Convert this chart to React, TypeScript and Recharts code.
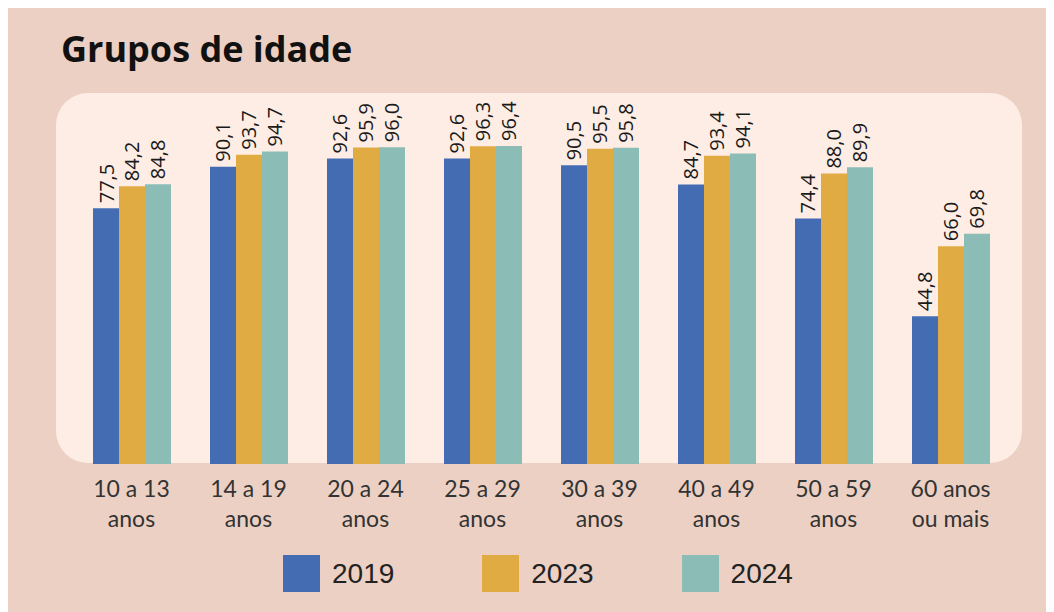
import { Bar, BarChart, LabelList, XAxis, YAxis } from "recharts";

const categories = [
  "10 a 13\nanos",
  "14 a 19\nanos",
  "20 a 24\nanos",
  "25 a 29\nanos",
  "30 a 39\nanos",
  "40 a 49\nanos",
  "50 a 59\nanos",
  "60 anos\nou mais",
];
const values2019 = [77.5, 90.1, 92.6, 92.6, 90.5, 84.7, 74.4, 44.8];
const values2023 = [84.2, 93.7, 95.9, 96.3, 95.5, 93.4, 88.0, 66.0];
const values2024 = [84.8, 94.7, 96.0, 96.4, 95.8, 94.1, 89.9, 69.8];

const series = [
  { key: "2019", values: values2019, color: "#436cb3" },
  { key: "2023", values: values2023, color: "#e0ab42" },
  { key: "2024", values: values2024, color: "#8bbdb6" },
];

const data = categories.map((name, i) => {
  const row: Record<string, string | number> = { name };
  series.forEach((s) => (row[s.key] = s.values[i]));
  return row;
});

const fmt = (v: number) => v.toFixed(1).replace(".", ",");

function BarLabel(props: any) {
  const { x, y, width, value } = props;
  const cx = x + width / 2;
  const ty = y - 5;
  return (
    <text
      x={cx}
      y={ty}
      transform={`rotate(-90, ${cx}, ${ty})`}
      textAnchor="start"
      dominantBaseline="central"
      fontFamily="Open Sans"
      fontSize={20}
      fill="#1a1a1a"
    >
      {fmt(value)}
    </text>
  );
}

function CategoryTick(props: any) {
  const { x, y, payload } = props;
  const lines = String(payload.value).split("\n");
  return (
    <text x={x} textAnchor="middle" fontFamily="Lato" fontSize={23} fill="#333">
      {lines.map((l, i) => (
        <tspan key={i} x={x} y={y + 33 + i * 30}>
          {l}
        </tspan>
      ))}
    </text>
  );
}

export default function App() {
  return (
    <div style={{ position: "relative", width: 1046, height: 604, background: "#ebd0c3" }}>
      <div
        style={{
          position: "absolute",
          left: 53,
          top: 23,
          fontFamily: "Open Sans",
          fontWeight: 700,
          fontSize: 36,
          lineHeight: "36px",
          color: "#111",
        }}
      >
        Grupos de idade
      </div>
      <div
        style={{
          position: "absolute",
          left: 48,
          top: 85,
          width: 966,
          height: 370,
          borderRadius: 32,
          background: "#fdede4",
        }}
      />
      <div style={{ position: "absolute", left: 0, top: 0 }}>
        <BarChart
          width={1046}
          height={604}
          data={data}
          margin={{ top: 126, right: 45, left: 65, bottom: 78 }}
          barGap={0}
          barSize={26}
        >
          <XAxis
            dataKey="name"
            height={70}
            axisLine={false}
            tickLine={false}
            tickSize={0}
            tickMargin={0}
            interval={0}
            tick={<CategoryTick />}
          />
          <YAxis hide domain={[0, 100]} />
          {series.map((s) => (
            <Bar key={s.key} dataKey={s.key} fill={s.color} isAnimationActive={false}>
              <LabelList dataKey={s.key} content={<BarLabel />} />
            </Bar>
          ))}
        </BarChart>
      </div>
      <div style={{ position: "absolute", left: 275, top: 547, display: "flex", gap: 88 }}>
        {series.map((s) => (
          <div key={s.key} style={{ display: "flex", alignItems: "center", gap: 12 }}>
            <div style={{ width: 37, height: 37, background: s.color }} />
            <span style={{ fontFamily: "Liberation Sans", fontSize: 28, color: "#222" }}>{s.key}</span>
          </div>
        ))}
      </div>
    </div>
  );
}
